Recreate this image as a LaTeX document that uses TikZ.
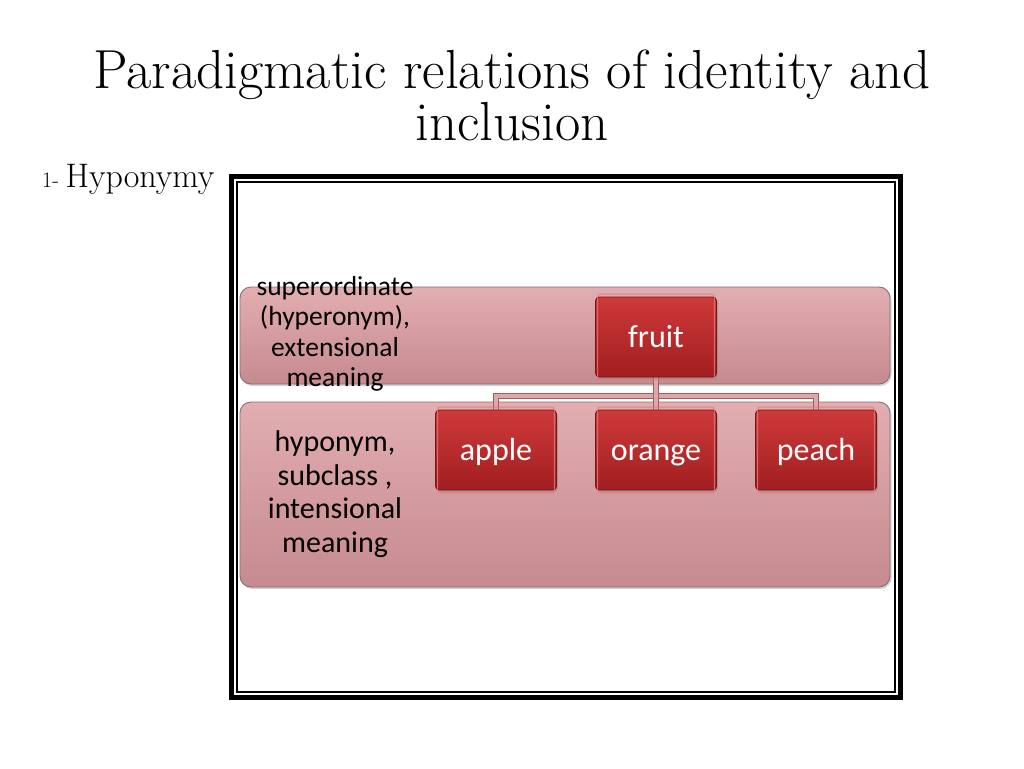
\documentclass[tikz,border=0pt]{standalone}
\usepackage{fontspec}
\newfontfamily\carlito{Carlito}
\usetikzlibrary{calc,shadows,backgrounds}
\definecolor{bandtop}{RGB}{226,174,177}
\definecolor{bandbot}{RGB}{198,138,143}
\definecolor{bandline}{RGB}{130,112,114}
\definecolor{boxtop}{RGB}{205,58,58}
\definecolor{boxbot}{RGB}{162,30,32}
\definecolor{boxline}{RGB}{115,22,22}
\definecolor{boxrim}{RGB}{228,120,120}
\definecolor{connout}{RGB}{160,92,96}
\definecolor{connin}{RGB}{220,168,168}
\tikzset{
  band/.style={draw=bandline, line width=0.9pt, rounded corners=11pt,
    top color=bandtop, bottom color=bandbot, inner sep=0pt,
    drop shadow={shadow xshift=1.5pt, shadow yshift=-2pt, opacity=0.35}},
  item/.style={draw=boxline, line width=0.9pt, rounded corners=4pt,
    top color=boxtop, bottom color=boxbot, inner sep=0pt,
    minimum width=121pt, minimum height=80pt, text=white,
    text height=22pt, text depth=2pt,
    font=\carlito\fontsize{32}{36}\selectfont,
    drop shadow={shadow xshift=1.5pt, shadow yshift=-2pt, opacity=0.4}},
  bandlabel/.style={align=center, text=black, inner sep=0pt},
  conn/.style={draw=connout, line width=1.3pt, double=connin, double distance=4pt},
}
\begin{document}
\begin{tikzpicture}[x=1pt,y=-1pt]
\useasboundingbox (0,0) rectangle (1024,768);
% title
\node[anchor=base, inner sep=0pt, font=\fontsize{55}{60}\selectfont] (title1) at (512,88)
  {Paradigmatic relations of identity and};
\node[anchor=base, inner sep=0pt, font=\fontsize{55}{60}\selectfont] (title2) at (512,140)
  {inclusion};
\node[anchor=base west, inner sep=0pt] (hypo) at (42,187)
  {\fontsize{22}{24}\selectfont 1- \fontsize{34}{36}\selectfont Hyponymy};
% frame
\draw[line width=5pt] (231.5,176.5) rectangle (900.5,697.5);
\draw[line width=1.2pt] (237,182) rectangle (895,692);
% bands
\begin{scope}[on background layer]
\node[band, minimum width=650pt, minimum height=97pt] (sup) at (565,335.5) {};
\node[band, minimum width=650pt, minimum height=185pt] (hyp) at (565,494.5) {};
\end{scope}
% band labels
\node[bandlabel, font=\carlito\fontsize{27.5}{30.5}\selectfont] (suplabel) at (335,334)
  {superordinate\\(hyperonym),\\extensional\\meaning};
\node[bandlabel, font=\carlito\fontsize{30}{33.5}\selectfont] (hyplabel) at (335,494)
  {hyponym,\\subclass ,\\intensional\\meaning};
% boxes
\coordinate (bus) at (656,396);
\node[item] (fruit) at (656,337) {fruit};
\node[item] (apple) at (496,450) {apple};
\node[item] (orange) at (656,450) {orange};
\node[item] (peach) at (816,450) {peach};
% glossy rims
\foreach \b in {fruit,apple,orange,peach}{
  \draw[boxrim, line width=1pt, rounded corners=3pt, opacity=0.8]
    ([xshift=2.5pt,yshift=-2.5pt]\b.south west) rectangle ([xshift=-2.5pt,yshift=2.5pt]\b.north east);
}
% connectors
\begin{scope}[on background layer]
\draw[conn] (fruit.south) -- (fruit.south |- bus) -| (apple.north);
\draw[conn] (fruit.south |- bus) -| (peach.north);
\draw[conn] (fruit.south) -- (orange.north);
\end{scope}
\end{tikzpicture}
\end{document}
